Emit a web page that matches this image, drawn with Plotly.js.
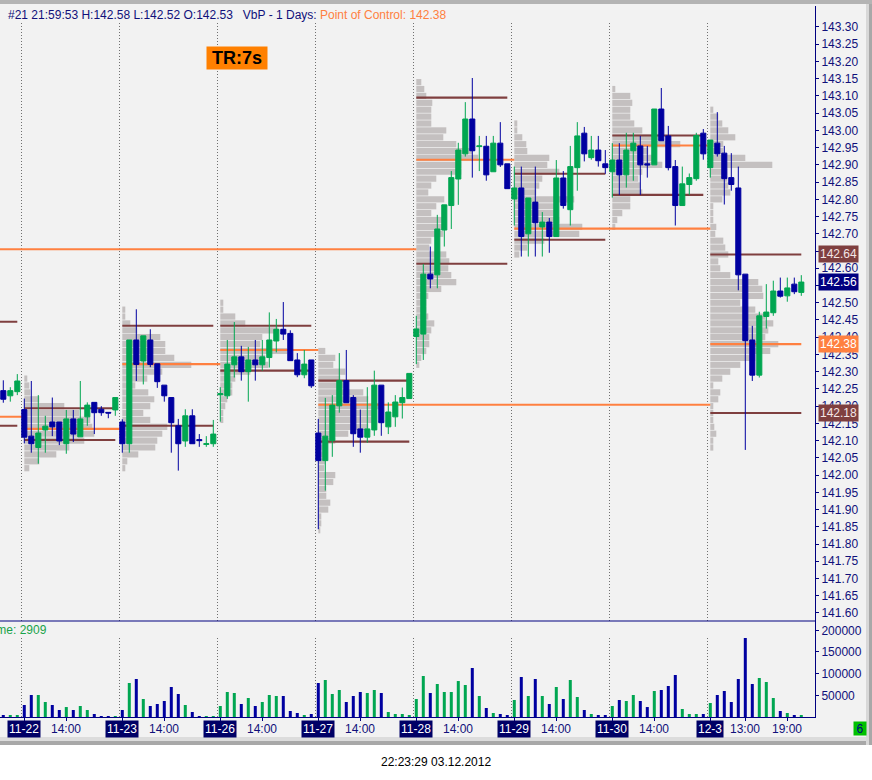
<!DOCTYPE html>
<html><head><meta charset="utf-8">
<script src="https://cdn.plot.ly/plotly-3.0.1.min.js"></script>
<style>html,body{margin:0;padding:0;background:#fff;}#chart{width:872px;height:780px;}</style>
</head><body><div id="chart"></div>
<script>
// ---------------- DATA ----------------
const dayLabels = ['11-22','11-23','11-26','11-27','11-28','11-29','11-30','12-3'];
const barsPerDay = 14;
const firstHour = 8;
const preBars = 3; // last bars of 11-21

const opens = [142.245,142.23,142.242,
 142.19,142.113,142.08,142.131,142.154,142.154,142.091,142.163,142.111,142.169,142.211,142.191,142.182,142.189,
 142.154,142.091,142.392,142.331,142.392,142.323,142.261,142.225,142.143,142.099,142.172,142.103,142.089,142.091,
 142.233,142.23,142.32,142.343,142.30,142.334,142.32,142.341,142.389,142.423,142.411,142.334,142.291,142.334,
 142.122,142.042,142.10,142.201,142.274,142.225,142.134,142.11,142.131,142.261,142.14,142.169,142.21,142.222,
 142.402,142.409,142.583,142.581,142.711,142.782,142.859,142.932,143.033,142.953,142.954,142.88,142.963,142.903,
 142.801,142.833,142.70,142.792,142.72,142.734,142.692,142.862,142.77,142.892,142.992,142.921,142.943,142.903,
 142.88,142.914,142.871,142.941,142.955,142.903,142.90,143.062,142.984,142.895,142.782,142.843,142.86,142.992,
 142.892,142.963,142.934,142.863,142.833,142.583,142.392,142.29,142.46,142.471,142.534,142.52,142.554,142.53];
const highs = [142.275,142.255,142.293,
 142.222,142.273,142.232,142.172,142.225,142.154,142.189,142.189,142.273,142.211,142.211,142.20,142.182,142.225,
 142.162,142.392,142.481,142.404,142.423,142.323,142.261,142.225,142.163,142.191,142.191,142.119,142.113,142.16,
 142.255,142.392,142.444,142.375,142.372,142.392,142.392,142.472,142.453,142.502,142.42,142.354,142.363,142.334,
 142.163,142.224,142.232,142.354,142.363,142.232,142.19,142.255,142.303,142.261,142.211,142.232,142.254,142.295,
 142.462,142.612,142.663,142.755,142.784,142.882,142.964,143.082,143.152,142.984,142.984,142.984,143.024,142.903,
 142.895,142.895,142.804,142.895,142.763,142.746,142.914,142.882,142.955,143.024,143.01,142.984,142.984,142.943,
 142.963,142.963,142.993,142.993,142.984,142.955,143.062,143.123,143.013,142.914,142.895,142.875,142.993,143.004,
 142.972,143.053,142.955,142.934,142.895,142.583,142.433,142.474,142.554,142.564,142.573,142.573,142.573,142.58];
const lows = [142.21,142.213,142.232,
 142.092,142.065,142.033,142.065,142.113,142.087,142.062,142.096,142.111,142.143,142.119,142.172,142.165,142.172,
 142.065,142.065,142.273,142.263,142.313,142.253,142.213,142.065,142.013,142.082,142.091,142.082,142.082,142.082,
 142.155,142.221,142.283,142.274,142.213,142.274,142.303,142.312,142.356,142.392,142.332,142.284,142.281,142.253,
 141.843,141.955,142.053,142.181,142.21,142.082,142.065,142.094,142.114,142.114,142.119,142.14,142.164,142.222,
 142.322,142.334,142.542,142.542,142.663,142.714,142.784,142.924,142.863,142.882,142.854,142.88,142.894,142.831,
 142.724,142.634,142.634,142.634,142.634,142.645,142.692,142.773,142.724,142.825,142.91,142.915,142.895,142.874,
 142.805,142.813,142.834,142.854,142.813,142.863,142.90,142.97,142.884,142.724,142.782,142.813,142.854,142.915,
 142.863,142.924,142.785,142.825,142.536,142.073,142.273,142.283,142.425,142.462,142.515,142.503,142.525,142.52];
const closes = [142.22,142.245,142.273,
 142.11,142.091,142.122,142.142,142.14,142.099,142.163,142.119,142.163,142.203,142.181,142.181,142.180,142.225,
 142.091,142.392,142.321,142.404,142.321,142.271,142.23,142.152,142.091,142.172,142.091,142.100,142.091,142.119,
 142.236,142.322,142.343,142.30,142.334,142.32,142.343,142.392,142.423,142.409,142.332,142.291,142.322,142.259,
 142.042,142.113,142.203,142.274,142.21,142.12,142.11,142.134,142.261,142.152,142.183,142.212,142.225,142.295,
 142.424,142.583,142.569,142.714,142.784,142.863,142.943,143.033,142.941,142.955,142.871,142.963,142.90,142.831,
 142.833,142.692,142.804,142.732,142.734,142.692,142.862,142.782,142.895,142.984,142.932,142.943,142.912,142.892,
 142.914,142.871,142.943,142.963,142.90,142.90,143.062,142.97,142.892,142.782,142.845,142.863,142.985,142.932,
 142.972,142.932,142.86,142.843,142.581,142.39,142.29,142.462,142.473,142.534,142.519,142.543,142.532,142.56];
const volumes = [4600,4600,4600,
 27700,50800,50800,34600,27700,16100,23000,16100,25400,16100,6900,2300,2300,2300,
 16100,78400,87700,41500,25400,30000,36900,69200,53100,27700,11500,2300,2300,2300,
 25400,57700,55400,30000,43800,25400,34600,50800,48500,48500,13800,9200,4600,6900,
 78400,85400,53100,62300,34600,48500,57700,55400,62300,55400,11500,6900,6900,4600,
 41500,94600,55400,76100,57700,57700,83000,73800,113000,48500,20800,9200,6900,4600,
 39200,92300,48500,87700,48500,30000,69200,41500,85400,46100,16100,6900,4600,4600,
 25400,39200,36900,50800,36900,23000,60000,62300,71500,96900,18500,6900,6900,6900,
 32300,50800,60000,34600,87700,182300,76100,90000,80700,43800,13800,9200,4600,4600];

// value area high / point of control / value area low, one per day
const vah = [142.194,142.433,142.433,142.274,143.095,142.874,142.985,142.64];
const poc = [142.134,142.322,142.363,142.204,142.915,142.715,142.956,142.38];
const val = [142.102,142.143,142.303,142.097,142.613,142.683,142.813,142.18];
const pocEndDay = [1,2,3,7,5,7,7,null]; // day whose open touches the naked POC
// levels carried in from earlier sessions
const prevVah = 142.445, prevPoc = 142.169, prevVal = 142.143;
const olderPoc = 142.655, olderPocEndDay = 4;

// volume profiles (relative volume per 0.02 price level, top to bottom)
const profStep = 0.02;
const profTop = [142.28,142.48,142.50,142.36,143.14,143.02,143.12,143.06];
const prof1122 = [3,5,6,15,40,55,66,68,70,60,45,32,15,5];
const prof1123 = [3,3,8,15,38,43,43,52,69,40,25,13,26,32,28,21,28,45,40,35,33,16,5,3];
const prof1126 = [3,3,15,25,58,42,40,67,45,48,30,15,12,12,7,5,3,3];
const prof1127 = [7,17,15,27,22,25,45,50,62,55,55,50,30,17,8,8,7,6,17,15,8,8,12,10,3,3,2];
const prof1128 = [5,8,10,16,15,15,15,30,27,40,56,62,45,45,20,15,12,28,20,15,30,30,27,15,13,30,33,32,35,40,25,12,10,10,12,18,15,13,13,10,5,3];
const prof1129 = [3,3,8,12,13,35,33,45,28,25,22,60,42,40,45,68,65,30,13,5];
const prof1130 = [3,18,20,18,18,22,30,48,68,36,40,50,30,26,28,30,18,18,10,5,3];
const prof1203 = [3,8,12,18,25,13,13,35,62,17,17,18,20,12,3,3,3,6,5,13,15,18,8,10,20,48,52,53,30,45,55,63,58,55,68,60,45,30,20,12,3,10,8,3,3,3,4,6,3,3];

const priceTicks = [141.60,141.65,141.70,141.75,141.80,141.85,141.90,141.95,142.00,142.05,142.10,142.15,142.20,142.25,142.30,142.35,142.40,142.45,142.50,142.55,142.60,142.65,142.70,142.75,142.80,142.85,142.90,142.95,143.00,143.05,143.10,143.15,143.20,143.25,143.30];
const coveredTicks = [142.55,142.65]; // labels hidden under the price badges
const volTicks = [50000,100000,150000,200000];
const timeLabelDay = [0,1,2,3,4,5,6,7,7];
const timeLabelHour = [14,14,14,14,14,14,14,13,19];
const headerTag = '#21 21:59:53';
const volumeText = 'Volume: 2909';
const stampText = '22:23:29 03.12.2012';
const cornerText = '6';
const trText = 'TR:7s';

// ---------------- BUILD ----------------
const navy = '#000080', upC = '#00a651', dnC = '#0000a0', brown = '#7f3f3f', orange = '#ff8040';
const FONT = 'Liberation Sans, Arial, sans-serif';
const N = opens.length, last = N - 1;
const xs = opens.map((_, i) => i);
const dayStart = d => preBars + d * barsPerDay;
const dayEnd = d => dayStart(d) + barsPerDay - 1;
const isUp = closes.map((c, i) => c >= opens[i]);
const profiles = [prof1122,prof1123,prof1126,prof1127,prof1128,prof1129,prof1130,prof1203];
const PW = 1/7;           // profile width scale (bar units per volume unit)
const LINE_H = 0.006;     // level line thickness in price units

// paper helpers (plot area: x 0..815px, y 6..717px)
const xP = px => px / 815;
const yP = py => (717 - py) / 711;

const traces = [];
// volume profiles
const pY = [], pX = [], pB = [];
profiles.forEach((vols, d) => vols.forEach((v, r) => {
  pY.push(+(profTop[d] - r * profStep).toFixed(3)); pX.push(v * PW); pB.push(dayStart(d));
}));
traces.push({type:'bar', orientation:'h', y:pY, x:pX, base:pB, width:0.018,
  marker:{color:'rgb(196,192,192)', line:{width:0}}, hoverinfo:'skip', xaxis:'x', yaxis:'y'});

// level lines
const segs = {b:{y:[],x:[],base:[]}, o:{y:[],x:[],base:[]}};
function seg(kind, y, x0, x1){ segs[kind].y.push(y); segs[kind].base.push(x0); segs[kind].x.push(x1 - x0); }
seg('b', prevVah, -11, 2); seg('b', prevVal, -11, 2); seg('o', prevPoc, -11, dayStart(0));
seg('o', olderPoc, -11, dayStart(olderPocEndDay));
dayLabels.forEach((_, d) => {
  seg('b', vah[d], dayStart(d), dayEnd(d));
  seg('b', val[d], dayStart(d), dayEnd(d));
  seg('o', poc[d], dayStart(d), pocEndDay[d] === null ? dayEnd(d) : dayStart(pocEndDay[d]));
});
traces.push({type:'bar', orientation:'h', y:segs.b.y, x:segs.b.x, base:segs.b.base, width:LINE_H,
  marker:{color:brown, line:{width:0}}, hoverinfo:'skip'});
traces.push({type:'bar', orientation:'h', y:segs.o.y, x:segs.o.x, base:segs.o.base, width:LINE_H,
  marker:{color:orange, line:{width:0}}, hoverinfo:'skip'});

// candles
traces.push({type:'candlestick', x:xs, open:opens, high:highs, low:lows, close:closes,
  increasing:{line:{color:upC, width:1}, fillcolor:upC},
  decreasing:{line:{color:dnC, width:1}, fillcolor:dnC},
  whiskerwidth:0, hoverinfo:'skip', xaxis:'x', yaxis:'y'});

// volume
traces.push({type:'bar', x:xs, y:volumes, width:0.43, yaxis:'y2', xaxis:'x',
  marker:{color:isUp.map(u => u ? upC : dnC), line:{width:0}}, hoverinfo:'skip'});

// ---------------- LAYOUT ----------------
const shapes = [];
dayLabels.forEach((_, d) => {
  const xv = dayStart(d) - 0.4;
  shapes.push({type:'line', xref:'x', yref:'paper', x0:xv, x1:xv, y0:yP(621), y1:yP(23),
    line:{color:'#707070', width:1, dash:'1px,2px'}, layer:'below'});
  shapes.push({type:'line', xref:'x', yref:'paper', x0:xv, x1:xv, y0:yP(717), y1:yP(637),
    line:{color:'#707070', width:1, dash:'1px,2px'}, layer:'below'});
});
shapes.push({type:'line', xref:'paper', yref:'paper', x0:0, x1:1, y0:yP(621), y1:yP(621), line:{color:navy, width:1}});
shapes.push({type:'rect', xref:'paper', yref:'paper', x0:xP(-2), x1:xP(874), y0:yP(745), y1:yP(782), fillcolor:'#ffffff', line:{width:0}, layer:'below'});
shapes.push({type:'rect', xref:'paper', yref:'paper', x0:xP(-2), x1:xP(866), y0:yP(737), y1:yP(741), fillcolor:'#dcdcdc', line:{width:0}, layer:'below'});
shapes.push({type:'rect', xref:'paper', yref:'paper', x0:xP(-2), x1:xP(866), y0:yP(741), y1:yP(745), fillcolor:'#a8a8a8', line:{width:0}, layer:'below'});
shapes.push({type:'rect', xref:'paper', yref:'paper', x0:xP(-2), x1:xP(874), y0:yP(-2), y1:yP(4), fillcolor:'#b4b4b4', line:{width:0}, layer:'below'});
shapes.push({type:'rect', xref:'paper', yref:'paper', x0:xP(866), x1:xP(869), y0:yP(4), y1:yP(745), fillcolor:'#d8d8d8', line:{width:0}, layer:'below'});
shapes.push({type:'rect', xref:'paper', yref:'paper', x0:xP(869), x1:xP(874), y0:yP(4), y1:yP(745), fillcolor:'#a8a8a8', line:{width:0}, layer:'below'});

const ann = [];
const f2 = v => v.toFixed(2);
ann.push({xref:'paper', yref:'paper', x:xP(6), y:yP(15), xanchor:'left', yanchor:'middle', showarrow:false,
  font:{family:FONT, size:12, color:'#10107a'},
  text: headerTag + ' H:' + f2(highs[last]) + ' L:' + f2(lows[last]) + ' O:' + f2(opens[last]) +
    '\u00a0\u00a0 VbP - 1 Days: <span style="color:' + orange + '">Point of Control: ' + f2(poc[7]) + '</span>'});
ann.push({xref:'paper', yref:'paper', x:xP(237), y:yP(58), xanchor:'center', yanchor:'middle', showarrow:false,
  text:'<b>' + trText + '</b>', font:{family:FONT, size:18, color:'#000'}, bgcolor:'#ff8000', width:58, height:20, borderpad:1});
ann.push({xref:'paper', yref:'paper', x:xP(-29), y:yP(630), xanchor:'left', yanchor:'middle', showarrow:false,
  text:volumeText, font:{family:FONT, size:12, color:'#1aa34a'}});
function badge(v, bg, fg){
  ann.push({xref:'paper', yref:'y', x:xP(818), y:v, xanchor:'left', yanchor:'middle', showarrow:false,
    text:f2(v), font:{family:FONT, size:12, color:fg}, bgcolor:bg, borderpad:1});
}
badge(vah[7], '#7f3f3f', '#f4e6e6');
badge(closes[last], '#000080', '#ffffff');
badge(poc[7], '#ff8040', '#ffffff');
badge(val[7], '#7f3f3f', '#f4e6e6');
const xTickVals = [];
dayLabels.forEach((lab, d) => {
  xTickVals.push(dayStart(d));
  ann.push({xref:'x', yref:'paper', x:dayStart(d), y:yP(728.5), xanchor:'center', yanchor:'middle', showarrow:false,
    text:lab, font:{family:FONT, size:12, color:'#ffffff'}, bgcolor:'#000066', borderpad:1});
});
timeLabelDay.forEach((d, i) => {
  const k = dayStart(d) + (timeLabelHour[i] - firstHour);
  xTickVals.push(k);
  ann.push({xref:'x', yref:'paper', x:k, y:yP(728.5), xanchor:'center', yanchor:'middle', showarrow:false,
    text:timeLabelHour[i] + ':00', font:{family:FONT, size:12, color:'#10107a'}});
});
ann.push({xref:'paper', yref:'paper', x:xP(860), y:yP(728), xanchor:'center', yanchor:'middle', showarrow:false,
  text:cornerText, font:{family:FONT, size:12, color:'#000080'}, bgcolor:'#00c000', width:12, height:13, borderpad:0});
ann.push({xref:'paper', yref:'paper', x:xP(436), y:yP(762), xanchor:'center', yanchor:'middle', showarrow:false,
  text:stampText, font:{family:FONT, size:12, color:'#000'}});

const layout = {
  width:872, height:780, margin:{l:0, r:57, t:6, b:63, pad:0},
  paper_bgcolor:'#f2f2f2', plot_bgcolor:'#f2f2f2', showlegend:false,
  barmode:'overlay', boxgap:0.15, boxgroupgap:0.15, hovermode:false,
  font:{family:FONT, size:12, color:navy},
  xaxis:{range:[-0.471, 115.957], showgrid:false, zeroline:false, showline:true, linecolor:navy, linewidth:1,
    ticks:'outside', ticklen:3, tickcolor:navy, tickvals:xTickVals, showticklabels:false,
    rangeslider:{visible:false}, anchor:'y2', fixedrange:true},
  yaxis:{domain:[yP(621), 1], range:[141.5767, 143.3609], side:'right', anchor:'x', showgrid:false, zeroline:false,
    showline:true, linecolor:navy, linewidth:1, ticks:'outside', ticklen:3, tickcolor:navy,
    tickvals:priceTicks, ticktext:priceTicks.map(v => coveredTicks.includes(v) ? '' : f2(v)),
    tickfont:{family:FONT, size:12, color:'#10107a'}, fixedrange:true},
  yaxis2:{domain:[0, yP(621)], range:[0, 221500], side:'right', anchor:'x', showgrid:false, zeroline:false,
    showline:true, linecolor:navy, linewidth:1, ticks:'outside', ticklen:3, tickcolor:navy,
    tickvals:volTicks, ticktext:volTicks.map(String), tickfont:{family:FONT, size:12, color:'#10107a'}, fixedrange:true},
  shapes:shapes, annotations:ann
};
Plotly.newPlot('chart', traces, layout, {staticPlot:true, displayModeBar:false});
</script></body></html>
